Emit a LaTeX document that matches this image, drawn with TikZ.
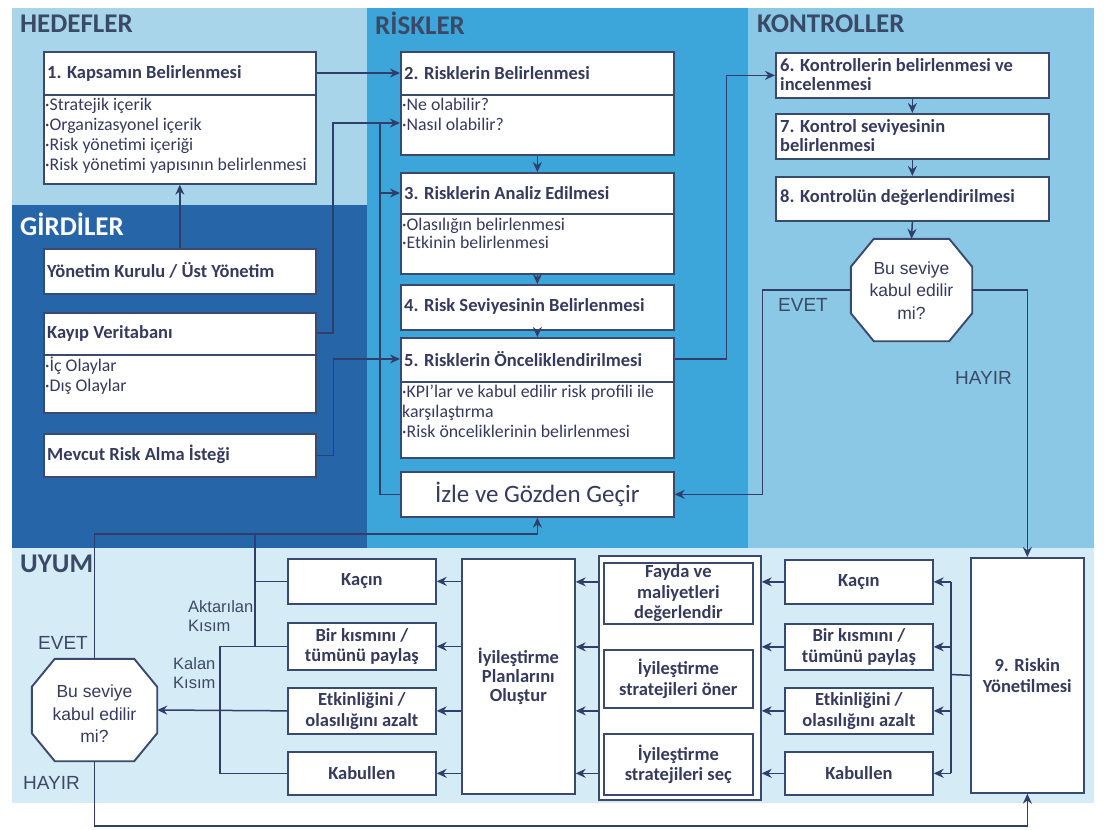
\documentclass[tikz,border=0pt]{standalone}
\usepackage{fontspec}
\setmainfont{Carlito}
\newfontfamily\arialfam{Liberation Sans}
\usetikzlibrary{arrows.meta,calc}
\definecolor{hedbg}{HTML}{A9D5EA}
\definecolor{girbg}{HTML}{2565A8}
\definecolor{risbg}{HTML}{3CA5D9}
\definecolor{konbg}{HTML}{8BC8E6}
\definecolor{uyumbg}{HTML}{D5EBF5}
\definecolor{linec}{HTML}{2F3E6A}
\definecolor{textc}{HTML}{363A5C}
\definecolor{boxc}{HTML}{3A4A6E}
\definecolor{headc}{HTML}{3A4A66}
% octagon drawn around the frame of a (borderless) node
\newcommand\octshape[1]{%
  \draw[octo] ($(#1.north west)+(23,0)$) -- ($(#1.north east)+(-23,0)$)
    -- ($(#1.north east)+(0,28)$) -- ($(#1.south east)+(0,-28)$)
    -- ($(#1.south east)+(-23,0)$) -- ($(#1.south west)+(23,0)$)
    -- ($(#1.south west)+(0,-28)$) -- ($(#1.north west)+(0,28)$) -- cycle;}
\begin{document}
\begin{tikzpicture}[x=1pt,y=-1pt,
  box/.style={draw=boxc, line width=1.7pt, fill=white, anchor=north west, inner sep=0pt},
  cbox/.style={box, align=center, font=\bfseries\fontsize{18.5}{20.5}\selectfont, text=textc},
  hd/.style={anchor=west, inner sep=0pt, align=left, font=\bfseries\fontsize{18.5}{19}\selectfont, text=textc},
  bl/.style={anchor=north west, inner sep=0pt, align=left, font=\fontsize{17.8}{20}\selectfont, text=textc},
  divline/.style={draw=boxc, line width=1.7pt},
  conn/.style={draw=linec, line width=1.5pt},
  arr/.style={conn, -{Stealth[length=10pt,width=9pt]}},
  zone/.style={anchor=west, inner sep=0pt, font=\bfseries\fontsize{27}{29}\selectfont, text=headc},
  yn/.style={anchor=west, inner sep=0pt, font=\arialfam\fontsize{19}{21}\selectfont, text=headc},
  side/.style={anchor=north west, inner sep=0pt, align=left, font=\arialfam\fontsize{16.5}{19}\selectfont, text=headc},
  qbox/.style={inner sep=0pt, minimum width=#1, minimum height=102},
  qtext/.style={inner sep=0pt, align=center, font=\arialfam\fontsize{17.5}{22.5}\selectfont, text=textc},
  octo/.style={draw=boxc, line width=1.9pt, fill=white},
]
\useasboundingbox (0,0) rectangle (1104,830);
\fill[white] (0,0) rectangle (1104,830);

% coloured zones
\fill[hedbg]  (12,8)    rectangle (367,205);
\fill[girbg]  (12,205)  rectangle (367,548);
\fill[risbg]  (367,8)   rectangle (748,548);
\fill[konbg]  (748,8)   rectangle (1094,548);
\fill[uyumbg] (12,548)  rectangle (1094,803);

\node[zone] (zhed) at (20,23.5) {HEDEFLER};
\node[zone, text=white] (zgir) at (20,224) {GİRDİLER};
\node[zone] (zris) at (375,23.5) {RİSKLER};
\node[zone] (zkon) at (757,23.5) {KONTROLLER};
\node[zone] (zuyum) at (20,563.5) {UYUM};

% ---- HEDEFLER / GİRDİLER column
\node[box, minimum width=272, minimum height=132] (b1) at (43,51) {};
\draw[divline] (43,95) -- (315,95);
\node[hd] (b1h) at (47,73) {1. Kapsamın Belirlenmesi};
\node[bl] (b1b) at (45,98) {·Stratejik içerik\\·Organizasyonel içerik\\·Risk yönetimi içeriği\\·Risk yönetimi yapısının belirlenmesi};

\node[box, minimum width=272, minimum height=45] (g1) at (43,248) {};
\node[hd] (g1h) at (47,270.5) {Yönetim Kurulu / Üst Yönetim};

\node[box, minimum width=272, minimum height=100] (g2) at (43,312) {};
\draw[divline] (43,355) -- (315,355);
\node[hd] (g2h) at (47,333) {Kayıp Veritabanı};
\node[bl] (g2b) at (45,357) {·İç Olaylar\\·Dış Olaylar};

\node[box, minimum width=272, minimum height=43] (g3) at (43,433) {};
\node[hd] (g3h) at (47,454.5) {Mevcut Risk Alma İsteği};

% ---- RİSKLER column
\node[box, minimum width=273, minimum height=103] (b2) at (400,51) {};
\draw[divline] (400,95) -- (673,95);
\node[hd] (b2h) at (404,73) {2. Risklerin Belirlenmesi};
\node[bl] (b2b) at (402,98) {·Ne olabilir?\\·Nasıl olabilir?};

\node[box, minimum width=273, minimum height=101] (b3) at (400,172) {};
\draw[divline] (400,214) -- (673,214);
\node[hd] (b3h) at (404,193) {3. Risklerin Analiz Edilmesi};
\node[bl, font=\fontsize{17.8}{18}\selectfont] (b3b) at (402,218) {·Olasılığın belirlenmesi\\·Etkinin belirlenmesi};

\node[box, minimum width=273, minimum height=45] (b4) at (400,284) {};
\node[hd] (b4h) at (404,306.5) {4. Risk Seviyesinin Belirlenmesi};

\node[box, minimum width=273, minimum height=120] (b5) at (400,337) {};
\draw[divline] (400,382) -- (673,382);
\node[hd] (b5h) at (404,359) {5. Risklerin Önceliklendirilmesi};
\node[bl] (b5b) at (402,385) {·KPI'lar ve kabul edilir risk profili ile\\karşılaştırma\\·Risk önceliklerinin belirlenmesi};

\node[box, minimum width=273, minimum height=45, font=\fontsize{25}{27}\selectfont, text=textc] (iz) at (400,471) {İzle ve Gözden Geçir};

% ---- KONTROLLER column
\node[box, minimum width=273, minimum height=45] (b6) at (775,52) {};
\node[hd] (b6h) at (780,74.5) {6. Kontrollerin belirlenmesi ve\\incelenmesi};
\node[box, minimum width=273, minimum height=45] (b7) at (775,113) {};
\node[hd] (b7h) at (780,135.5) {7. Kontrol seviyesinin\\belirlenmesi};
\node[box, minimum width=273, minimum height=44] (b8) at (775,176) {};
\node[hd] (b8h) at (780,198) {8. Kontrolün değerlendirilmesi};

\node[qbox=121] (q1) at (911.5,290) {};
\octshape{q1}
\node[qtext] (q1t) at (911.5,290.5) {Bu seviye\\kabul edilir\\mi?};
\node[yn] (ev1) at (778,305) {EVET};
\node[yn] (hy1) at (955,378) {HAYIR};

% ---- UYUM row
\node[cbox, minimum width=113, minimum height=235] (r9) at (970,557) {9. Riskin\\Yönetilmesi};

\node[cbox, minimum width=148, minimum height=44] (R1) at (784,559) {Kaçın};
\node[cbox, minimum width=148, minimum height=46] (R2) at (784,623) {Bir kısmını /\\tümünü paylaş};
\node[cbox, minimum width=148, minimum height=46] (R3) at (784,687) {Etkinliğini /\\olasılığını azalt};
\node[cbox, minimum width=148, minimum height=43] (R4) at (784,751) {Kabullen};

\node[box, minimum width=162, minimum height=244] (M) at (598,555) {};
\node[cbox, minimum width=149, minimum height=61] (M1) at (603,562) {Fayda ve\\maliyetleri\\değerlendir};
\node[cbox, minimum width=149, minimum height=58] (M2) at (603,649) {İyileştirme\\stratejileri öner};
\node[cbox, minimum width=149, minimum height=61] (M3) at (603,733) {İyileştirme\\stratejileri seç};

\node[cbox, minimum width=113, minimum height=235, font=\bfseries\fontsize{18.5}{19}\selectfont] (P) at (461,558) {İyileştirme\\Planlarını\\Oluştur};

\node[cbox, minimum width=148, minimum height=45] (L1) at (287,558) {Kaçın};
\node[cbox, minimum width=148, minimum height=47] (L2) at (287,622) {Bir kısmını /\\tümünü paylaş};
\node[cbox, minimum width=148, minimum height=46] (L3) at (287,687) {Etkinliğini /\\olasılığını azalt};
\node[cbox, minimum width=148, minimum height=43] (L4) at (287,751) {Kabullen};

\node[qbox=125] (q2) at (94.5,710) {};
\octshape{q2}
\node[qtext] (q2t) at (94.5,714) {Bu seviye\\kabul edilir\\mi?};
\node[yn] (ev2) at (38,643) {EVET};
\node[yn] (hy2) at (23,783) {HAYIR};
\node[side] (akt) at (188,600) {Aktarılan\\Kısım};
\node[side] (kal) at (173,657) {Kalan\\Kısım};

% ---- connectors: upper part
\coordinate (j2) at (333,123);
\coordinate (lp) at (380,123);
\draw[arr] (b1.east |- b1h) -- (b2.west |- b1h);
\draw[arr] (g1.north) -- (b1.south);
\draw[arr] (g2.east |- g2h) -| (j2) -- (b2.west |- j2);
\draw[conn] (iz.west) -| (lp);
\draw[arr] (lp |- b3h) -- (b3.west |- b3h);
\draw[arr] (g3.east) -- ++(17,0) |- (b5.west |- b5h);
\draw[arr] (b2.south) -- (b3.north);
\draw[arr] (b3.south) -- (b4.north);
\draw[arr] (b4.south) -- (b5.north);
\draw[arr] (b5.east |- b5h) -- ++(52,0) |- (b6.west);
\draw[arr] (b6.south) -- (b7.north);
\draw[arr] (b7.south) -- (b8.north);
\draw[arr] (b8.south) -- (q1.north);
\draw[arr] (q1.west) -- ++(-88.5,0) |- (iz.east);
\draw[arr] (q1.east) -| (r9.north);

% ---- connectors: UYUM row
\coordinate (fr) at (951,674.5);
\draw[conn] (r9.west) -- (fr);
\draw[conn] (fr |- R1) -- (fr |- R4);
\foreach \n in {R1,R2,R3,R4} {
  \draw[arr] (fr |- \n) -- (\n.east);
  \draw[arr] (\n.west) -- (M.east |- \n);
  \draw[arr] (M.west |- \n) -- (P.east |- \n);
}
\foreach \n in {L1,L2,L3,L4} {
  \draw[arr] (P.west |- \n) -- (\n.east);
}
\coordinate (ax) at (255,534);
\coordinate (kx) at (220,645.5);
\draw[conn] (L1.west) -- (L1.west -| ax);
\draw[conn] (L2.west) -- (L2.west -| kx) -- (L4.west -| kx) -- (L4.west);
\draw[arr] (ax |- L2.west) -- (ax) -| (iz.south);
\draw[conn] (q2.north) |- (ax);
\draw[arr] (L3.west) -- (q2.east);
\coordinate (hb) at (94.5,826);
\draw[arr] (q2.south) -- (hb) -| (r9.south);
\end{tikzpicture}
\end{document}
